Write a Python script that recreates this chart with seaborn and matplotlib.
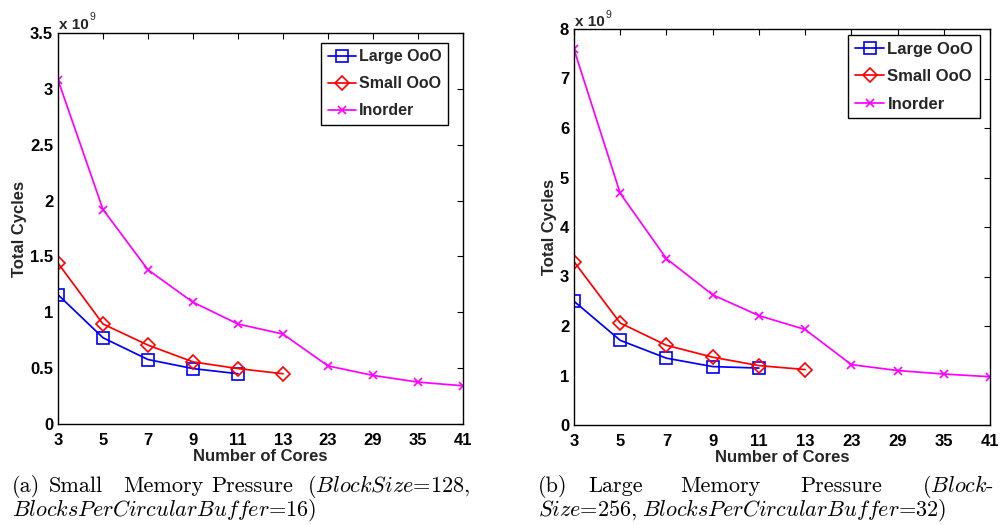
import numpy as np
import pandas as pd
import matplotlib
matplotlib.use("Agg")
import matplotlib.pyplot as plt
import seaborn as sns

# ---------------- data ----------------
cores = ["3", "5", "7", "9", "11", "13", "23", "29", "35", "41"]
series_names = ["Large OoO", "Small OoO", "Inorder"]

# panel (a): small memory pressure, total cycles in units of 1e9
large_a = [1.157, 0.772, 0.577, 0.496, 0.450]
small_a = [1.44, 0.895, 0.706, 0.556, 0.496, 0.450]
inorder_a = [3.08, 1.92, 1.38, 1.09, 0.895, 0.805, 0.52, 0.435, 0.375, 0.342]

# panel (b): large memory pressure, total cycles in units of 1e9
large_b = [2.50, 1.71, 1.35, 1.18, 1.15]
small_b = [3.30, 2.06, 1.61, 1.37, 1.20, 1.12]
inorder_b = [7.59, 4.68, 3.36, 2.63, 2.21, 1.93, 1.22, 1.10, 1.03, 0.975]

yticks_a = [0, 0.5, 1, 1.5, 2, 2.5, 3, 3.5]
yticklabels_a = ["0", "0.5", "1", "1.5", "2", "2.5", "3", "3.5"]
yticks_b = [0, 1, 2, 3, 4, 5, 6, 7, 8]
yticklabels_b = ["0", "1", "2", "3", "4", "5", "6", "7", "8"]

# ---------------- style ----------------
sns.set_style("white")
plt.rcParams["font.family"] = ["Liberation Sans", "DejaVu Sans"]
plt.rcParams["font.weight"] = "bold"
plt.rcParams["mathtext.fontset"] = "cm"

colors = {"Large OoO": "#0000ff", "Small OoO": "#ff0000", "Inorder": "#ff00ff"}
markers = {"Large OoO": "s", "Small OoO": "D", "Inorder": "x"}
msizes = {"Large OoO": 8, "Small OoO": 7.5, "Inorder": 6}

fig = plt.figure(figsize=(10.02, 5.25), dpi=100)
ax_a = fig.add_axes([58 / 1002, 1 - 424 / 525, (463 - 58) / 1002, (424 - 33) / 525])
ax_b = fig.add_axes([574 / 1002, 1 - 425 / 525, (990 - 574) / 1002, (425 - 29) / 525])


def draw(ax, data, yticks, yticklabels, ylim, leg_anchor, off_pts, leg_fs):
    for name, vals in zip(series_names, data):
        pos = np.arange(len(vals))
        sns.lineplot(x=pos, y=vals, ax=ax, color=colors[name], marker=markers[name],
                     markersize=msizes[name], markerfacecolor="none",
                     markeredgecolor=colors[name], markeredgewidth=1.2,
                     linewidth=1.25, label=name, legend=False)
    ax.set_xlim(0, len(cores) - 1)
    ax.set_ylim(*ylim)
    ax.set_xticks(np.arange(len(cores)))
    ax.set_xticklabels(cores)
    ax.set_yticks(yticks)
    ax.set_yticklabels(yticklabels)
    ax.tick_params(direction="in", length=4, width=0.8, top=True, right=True,
                   labelsize=12, colors="black")
    ax.tick_params(axis="x", pad=6.5)
    ax.tick_params(axis="y", pad=3.5)
    for lab in ax.get_xticklabels() + ax.get_yticklabels():
        lab.set_fontweight("bold")
    for sp in ax.spines.values():
        sp.set_color("black")
        sp.set_linewidth(1.0)
    ax.set_xlabel("Number of Cores", fontsize=12, fontweight="bold", labelpad=1)
    ax.set_ylabel("Total Cycles", fontsize=12, fontweight="bold", labelpad=2)
    # exponent label above the y axis
    ax.annotate("x 10", xy=(0, 1), xycoords="axes fraction", xytext=(0.5, off_pts),
                textcoords="offset points", fontsize=11, fontweight="bold",
                ha="left", va="baseline")
    ax.annotate("9", xy=(0, 1), xycoords="axes fraction", xytext=(22.5, off_pts + 6),
                textcoords="offset points", fontsize=7.5, fontweight="normal",
                ha="left", va="baseline")
    leg = ax.legend(loc="upper right", bbox_to_anchor=leg_anchor, fontsize=leg_fs,
                    frameon=True, fancybox=False, edgecolor="black",
                    handlelength=1.75, handletextpad=0.2, borderpad=0.4,
                    labelspacing=0.75, borderaxespad=0)
    leg.get_frame().set_linewidth(1.0)
    leg.get_frame().set_alpha(1)
    for t in leg.get_texts():
        t.set_fontweight("bold")


draw(ax_a, [large_a, small_a, inorder_a], yticks_a, yticklabels_a, (0, 3.5),
     (1 - 15 / 405, 1 - 10 / 391), 3, 11.5)
draw(ax_b, [large_b, small_b, inorder_b], yticks_b, yticklabels_b, (0, 8),
     (1 - 10 / 416, 1 - 6 / 396), 2, 12)

# ---------------- captions ----------------
cap_fs = 16
cap_kw = dict(fontsize=cap_fs, family="cmr10", fontweight="normal", va="baseline",
              ha="left", color="black")
y1 = 1 - 492.5 / 525
y2 = 1 - 515.5 / 525
caption_a1 = [(12, "(a)"), (49, "Small"), (123, "Memory"), (211, "Pressure"),
              (307, r"($BlockSize$=128,")]
caption_a2 = [(12, r"$BlocksPerCircularBuffer$=16)")]
caption_b1 = [(538, "(b)"), (588, "Large"), (680, "Memory"), (800, "Pressure"),
              (922, r"($Block$-")]
caption_b2 = [(538, r"$Size$=256,"), (642, r"$BlocksPerCircularBuffer$=32)")]
for yy, words in [(y1, caption_a1), (y2, caption_a2), (y1, caption_b1), (y2, caption_b2)]:
    for xp, w in words:
        fig.text(xp / 1002, yy, w, **cap_kw)

fig.savefig("out.png", dpi=100)
